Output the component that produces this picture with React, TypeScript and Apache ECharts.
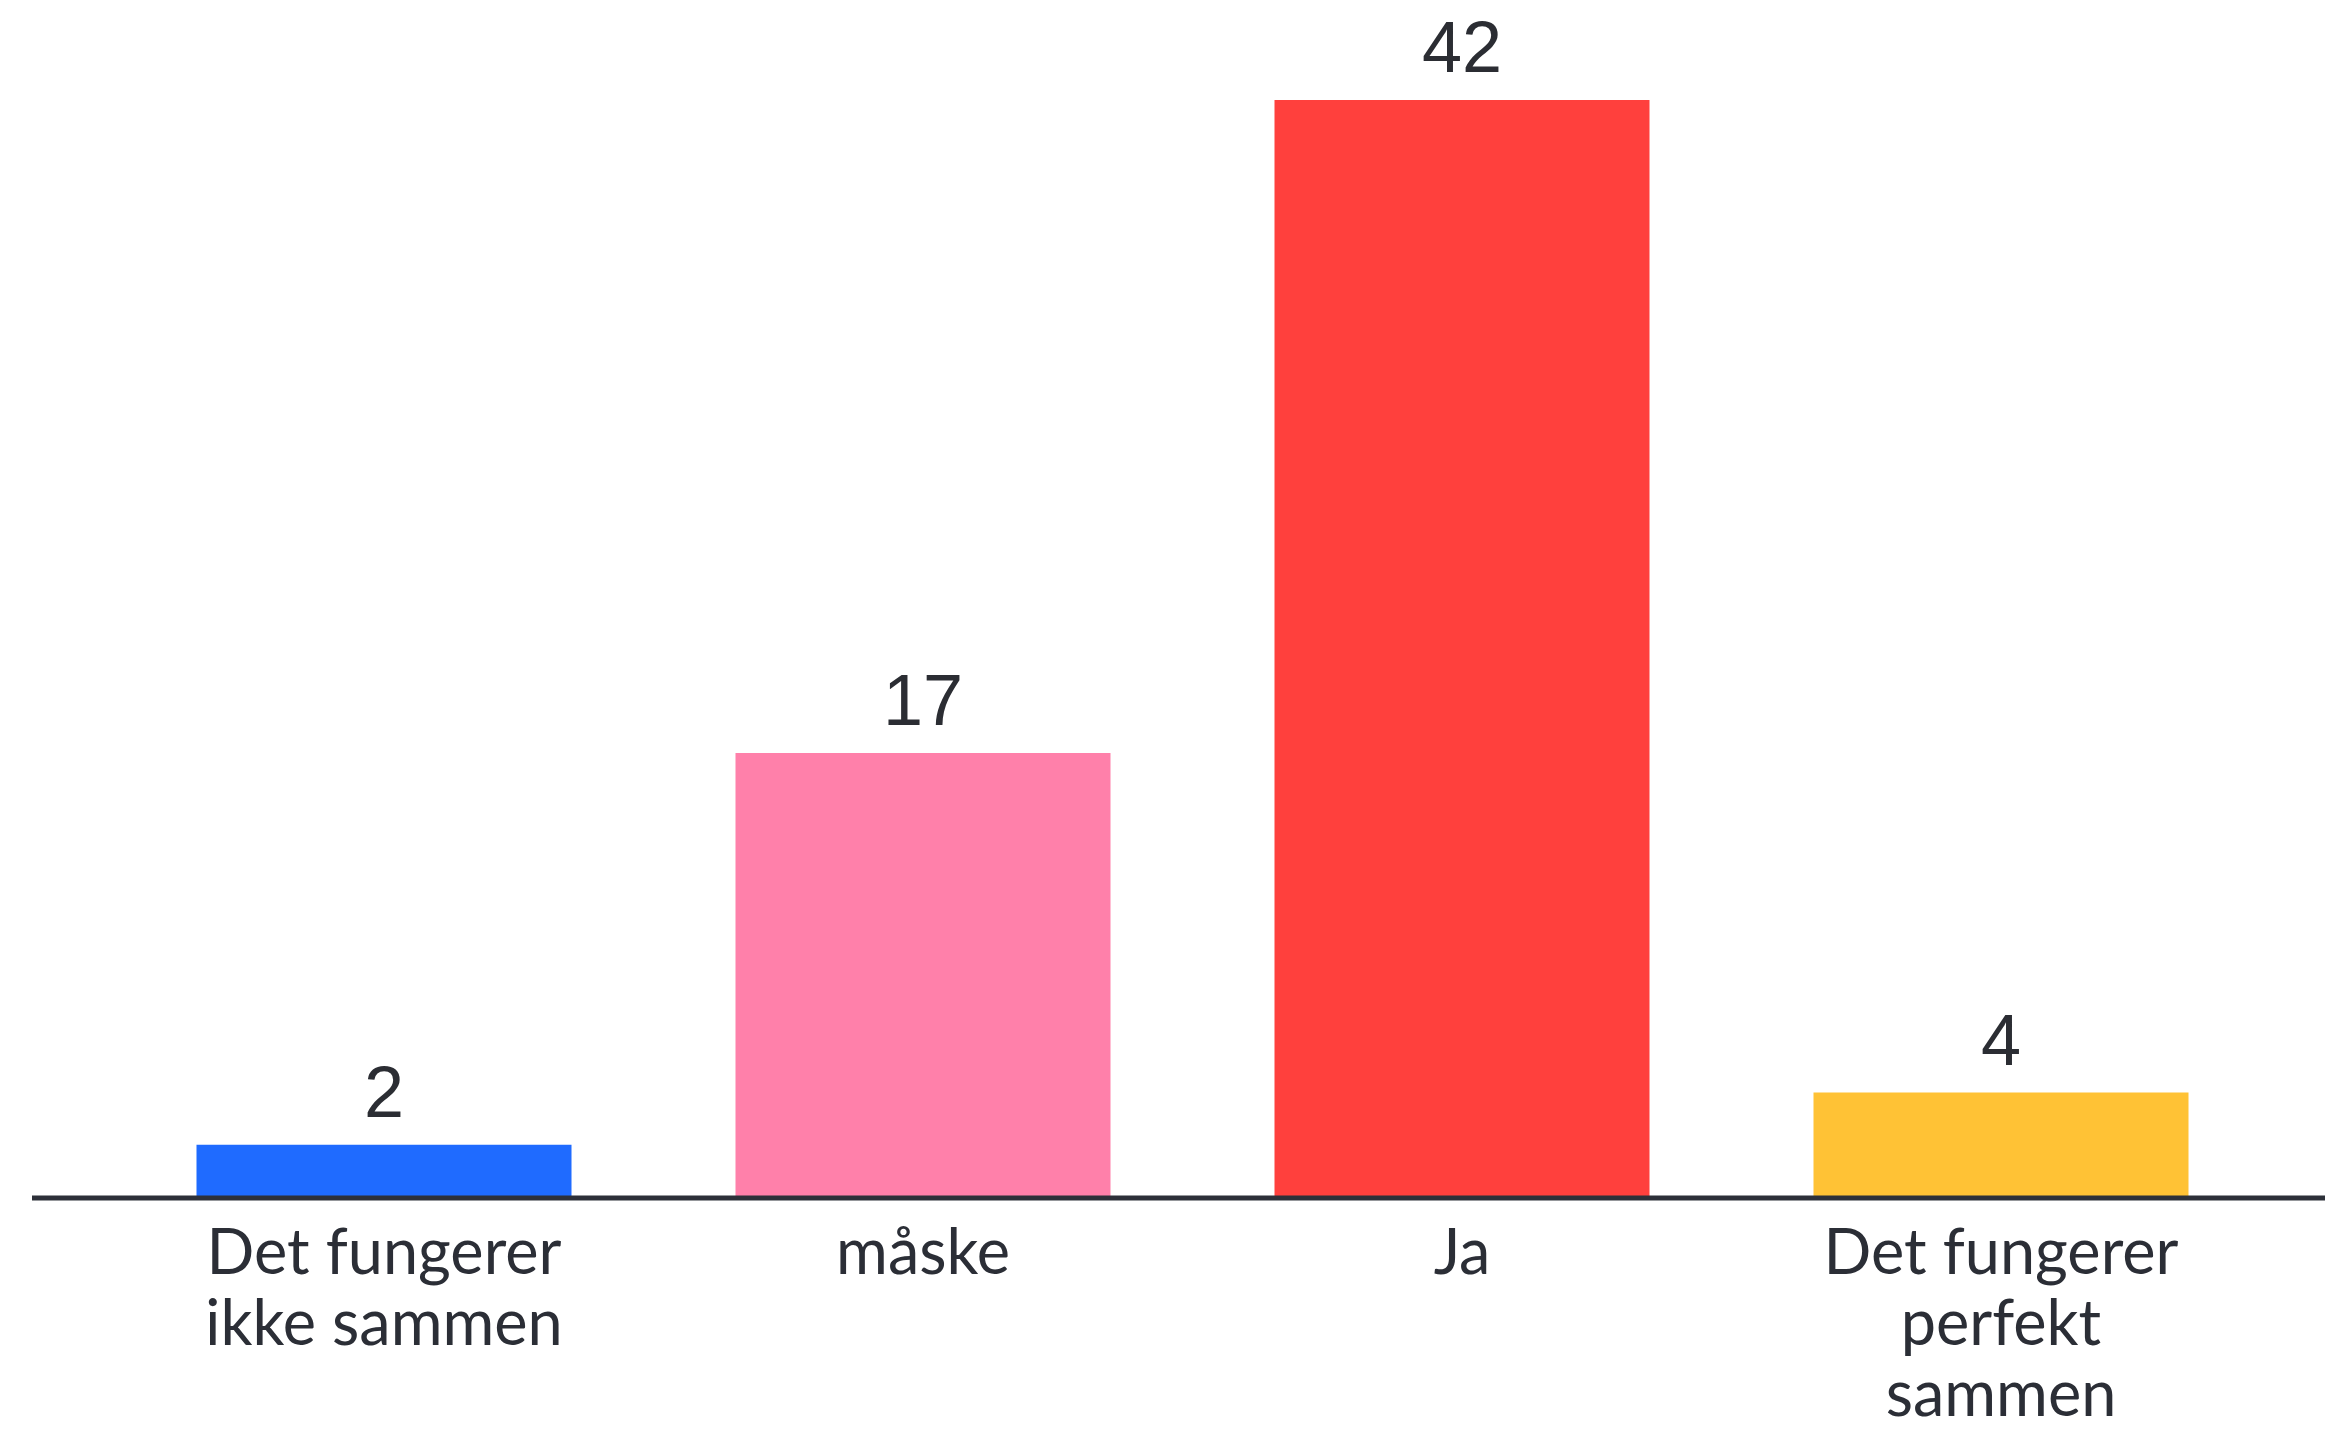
import React, { useEffect, useRef } from "react";
import * as echarts from "echarts";

const categories = ["Det fungerer\nikke sammen", "måske", "Ja", "Det fungerer\nperfekt\nsammen"];
const values = [2, 17, 42, 4];
const barColors = ["#1f6bff", "#ff80aa", "#ff403d", "#ffc235"];

export default function App() {
  const ref = useRef<HTMLDivElement>(null);
  useEffect(() => {
    document.body.style.margin = "0";
    const chart = echarts.init(ref.current!, null, { renderer: "svg" });
    chart.setOption({
      animation: false,
      backgroundColor: "#ffffff",
      grid: { left: 114.5, right: 54.5, top: 100, bottom: 234, outerBoundsMode: "none", containLabel: false },
      xAxis: {
        type: "category",
        data: categories,
        axisLine: { show: false },
        axisTick: { show: false },
        axisLabel: {
          interval: 0,
          margin: 17,
          fontSize: 63,
          lineHeight: 71,
          fontFamily: "Lato",
          color: "#2b2e36",
        },
      },
      yAxis: {
        type: "value",
        min: 0,
        max: 42,
        show: false,
        splitLine: { show: false },
      },
      graphic: [
        {
          type: "line",
          shape: { x1: 32, y1: 1198, x2: 2325, y2: 1198 },
          style: { stroke: "#2d3039", lineWidth: 5 },
          z: 10,
        },
      ],
      series: [
        {
          type: "bar",
          barWidth: 375,
          data: values.map((v, i) => ({ value: v, itemStyle: { color: barColors[i] } })),
          label: {
            show: true,
            position: "top",
            distance: 17,
            fontSize: 72,
            fontFamily: "Liberation Sans",
            color: "#2b2d33",
          },
        },
      ],
    });
    return () => chart.dispose();
  }, []);
  return <div ref={ref} style={{ width: 2325, height: 1431 }} />;
}
